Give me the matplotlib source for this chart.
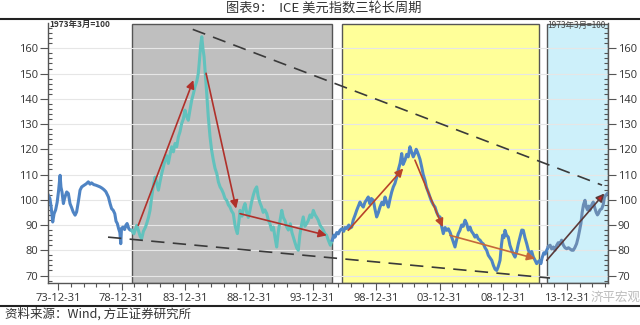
import matplotlib
matplotlib.use("Agg")
import matplotlib.pyplot as plt
from matplotlib.lines import Line2D

CJK = ['Noto Sans CJK SC', 'DejaVu Sans']
plt.rcParams['font.family'] = ['Open Sans', 'Noto Sans CJK SC', 'DejaVu Sans']

# ICE 美元指数 (1973年3月=100)
years = [
    1973.23, 1973.35, 1973.45, 1973.57, 1973.68, 1973.80, 1973.92, 1974.03, 1974.15, 1974.22,
    1974.30, 1974.41, 1974.50, 1974.58, 1974.67, 1974.80, 1974.93, 1975.05, 1975.18, 1975.33,
    1975.45, 1975.58, 1975.72, 1975.85, 1976.05, 1976.20, 1976.37, 1976.50, 1976.62, 1976.80,
    1976.95, 1977.15, 1977.29, 1977.45, 1977.60, 1977.75, 1977.95, 1978.08, 1978.20, 1978.33,
    1978.45, 1978.55, 1978.65, 1978.75, 1978.85, 1978.92, 1978.98, 1979.10, 1979.22, 1979.32,
    1979.42, 1979.55, 1979.65, 1979.78, 1979.95, 1980.05, 1980.18, 1980.30, 1980.45, 1980.57,
    1980.70, 1980.85, 1980.96, 1981.10, 1981.22, 1981.35, 1981.50, 1981.62, 1981.75, 1981.88,
    1982.00, 1982.14, 1982.27, 1982.40, 1982.53, 1982.66, 1982.80, 1982.93, 1983.06, 1983.19,
    1983.32, 1983.45, 1983.58, 1983.71, 1983.84, 1983.97, 1984.10, 1984.23, 1984.36, 1984.50,
    1984.63, 1984.76, 1984.90, 1985.02, 1985.12, 1985.20, 1985.29, 1985.38, 1985.47, 1985.58,
    1985.68, 1985.80, 1985.94, 1986.07, 1986.20, 1986.33, 1986.47, 1986.60, 1986.73, 1986.86,
    1986.99, 1987.12, 1987.25, 1987.38, 1987.51, 1987.64, 1987.77, 1987.90, 1988.00, 1988.09,
    1988.20, 1988.30, 1988.45, 1988.58, 1988.69, 1988.82, 1988.95, 1989.08, 1989.20, 1989.35,
    1989.48, 1989.61, 1989.72, 1989.85, 1990.00, 1990.12, 1990.25, 1990.40, 1990.52, 1990.65,
    1990.78, 1990.92, 1991.05, 1991.18, 1991.30, 1991.45, 1991.58, 1991.70, 1991.85, 1991.97,
    1992.10, 1992.25, 1992.38, 1992.49, 1992.62, 1992.75, 1992.88, 1993.00, 1993.13, 1993.27,
    1993.40, 1993.53, 1993.67, 1993.80, 1993.93, 1994.06, 1994.20, 1994.33, 1994.45, 1994.58,
    1994.72, 1994.85, 1994.98, 1995.10, 1995.24, 1995.40, 1995.55, 1995.68, 1995.77, 1995.90,
    1996.03, 1996.16, 1996.30, 1996.45, 1996.55, 1996.69, 1996.85, 1996.95, 1997.08, 1997.20,
    1997.35, 1997.47, 1997.60, 1997.73, 1997.85, 1997.99, 1998.12, 1998.25, 1998.38, 1998.50,
    1998.62, 1998.78, 1998.90, 1999.04, 1999.18, 1999.30, 1999.45, 1999.58, 1999.70, 1999.83,
    1999.96, 2000.10, 2000.22, 2000.35, 2000.48, 2000.62, 2000.75, 2000.88, 2001.01, 2001.12,
    2001.27, 2001.40, 2001.52, 2001.66, 2001.78, 2001.92, 2002.05, 2002.15, 2002.24, 2002.35,
    2002.45, 2002.58, 2002.70, 2002.84, 2002.95, 2003.10, 2003.23, 2003.35, 2003.50, 2003.63,
    2003.76, 2003.90, 2004.02, 2004.15, 2004.28, 2004.42, 2004.55, 2004.68, 2004.82, 2004.94,
    2005.08, 2005.20, 2005.32, 2005.45, 2005.59, 2005.72, 2005.85, 2005.99, 2006.12, 2006.25,
    2006.38, 2006.50, 2006.64, 2006.77, 2006.90, 2007.03, 2007.17, 2007.30, 2007.43, 2007.56,
    2007.69, 2007.82, 2007.95, 2008.09, 2008.22, 2008.35, 2008.48, 2008.60, 2008.74, 2008.85,
    2008.95, 2009.05, 2009.13, 2009.25, 2009.39, 2009.52, 2009.66, 2009.79, 2009.92, 2010.05,
    2010.18, 2010.30, 2010.45, 2010.57, 2010.70, 2010.84, 2010.97, 2011.10, 2011.23, 2011.36,
    2011.50, 2011.62, 2011.75, 2011.88, 2011.95, 2012.05, 2012.18, 2012.30, 2012.41, 2012.55,
    2012.68, 2012.80, 2012.93, 2013.06, 2013.20, 2013.32, 2013.45, 2013.58, 2013.72, 2013.85,
    2013.98, 2014.12, 2014.25, 2014.38, 2014.50, 2014.62, 2014.76, 2014.88, 2015.00, 2015.10,
    2015.20, 2015.30, 2015.42, 2015.52, 2015.62, 2015.72, 2015.81, 2015.95, 2016.07, 2016.18,
    2016.30, 2016.40, 2016.47, 2016.60, 2016.74, 2016.85, 2016.95, 2017.05, 2017.18,
]
dxy = [
    101.8, 100.5, 97.0, 91.2, 94.5, 96.0, 99.0, 103.5, 109.7, 105.0,
    103.1, 98.5, 100.5, 101.8, 103.1, 102.5, 98.5, 97.0, 95.2, 93.9,
    95.2, 99.1, 103.8, 105.1, 105.8, 106.3, 107.1, 106.2, 106.7, 106.0,
    105.8, 105.4, 105.1, 104.6, 104.0, 103.2, 101.1, 98.5, 96.5, 95.8,
    94.5, 91.5, 90.6, 88.6, 87.0, 82.6, 88.7, 89.2, 88.2, 89.9,
    90.6, 88.6, 88.0, 87.9, 86.5, 88.0, 89.9, 88.0, 85.5, 84.6,
    87.5, 89.0, 90.6, 93.0, 95.8, 101.0, 106.0, 109.0, 106.5, 103.8,
    107.0, 110.4, 113.0, 115.7, 117.5, 114.4, 118.0, 121.0, 119.0, 122.3,
    121.0, 124.9, 127.0, 130.2, 132.0, 135.5, 133.0, 131.5, 135.5, 139.5,
    142.0, 144.8, 147.0, 150.1, 156.0, 161.0, 164.6, 160.0, 156.7, 149.0,
    142.1, 133.0, 124.9, 119.5, 115.7, 112.5, 110.4, 107.0, 105.1, 104.0,
    102.5, 100.5, 99.8, 98.0, 97.1, 95.5, 94.5, 90.0, 88.0, 86.6,
    91.0, 95.8, 93.5, 97.0, 98.5, 95.0, 93.0, 95.8, 99.0, 102.0,
    104.0, 105.1, 101.5, 99.0, 97.1, 95.0, 96.0, 94.5, 92.0, 90.5,
    88.0, 89.2, 85.0, 81.3, 87.0, 92.0, 95.8, 93.0, 91.5, 89.2,
    88.0, 90.5, 87.0, 85.2, 83.0, 81.0, 80.0, 86.0, 90.0, 93.2,
    89.5, 90.5, 91.9, 94.0, 93.0, 95.8, 94.0, 93.0, 91.9, 90.0,
    89.0, 87.9, 86.5, 86.0, 84.0, 82.0, 84.0, 86.0, 85.2, 87.0,
    86.5, 87.9, 88.5, 87.5, 89.0, 88.6, 90.0, 88.8, 89.2, 92.0,
    94.0, 95.8, 97.5, 99.1, 98.0, 97.1, 99.0, 100.0, 101.1, 98.5,
    100.5, 99.8, 96.5, 93.2, 95.0, 97.1, 99.0, 98.0, 101.1, 99.0,
    97.1, 100.5, 103.0, 105.1, 106.5, 109.0, 112.0, 114.4, 118.3, 114.0,
    115.7, 118.0, 117.0, 121.0, 119.0, 117.0, 118.5, 120.0, 119.0, 117.5,
    116.0, 113.0, 110.0, 107.7, 105.0, 103.0, 101.1, 99.5, 98.0, 97.1,
    95.0, 93.5, 93.2, 89.5, 86.6, 89.0, 87.9, 88.5, 87.0, 85.2,
    83.0, 81.3, 84.0, 86.5, 87.9, 90.0, 89.5, 91.9, 90.5, 88.0,
    89.2, 87.5, 86.5, 85.2, 86.0, 84.5, 84.0, 83.0, 82.5, 81.0,
    80.0, 78.0, 77.0, 76.0, 74.0, 72.5, 72.0, 73.5, 76.0, 82.0,
    86.0, 85.0, 87.9, 86.0, 85.2, 82.0, 80.0, 78.5, 77.3, 79.5,
    82.6, 85.0, 88.0, 87.9, 85.0, 82.6, 80.0, 78.7, 79.5, 77.3,
    76.0, 74.7, 75.5, 76.0, 74.7, 77.0, 79.0, 78.5, 80.0, 81.5,
    82.0, 80.5, 81.3, 80.0, 82.0, 83.0, 82.6, 84.0, 82.0, 81.0,
    80.6, 81.0, 80.5, 80.0, 80.0, 81.0, 82.6, 85.0, 88.0, 90.6,
    95.0, 98.0, 99.8, 97.1, 96.0, 97.5, 95.8, 98.0, 99.1, 97.0,
    95.0, 94.0, 94.5, 96.0, 96.5, 98.0, 101.0, 101.8, 102.5,
]

# three long cycles (shaded periods)
cycle_start = [1979.78, 1996.32, 2012.43]
cycle_end = [1995.53, 2011.77, 2017.23]

# trend arrows (start point, end point)
arrow_from = [(1980.3, 89.9), (1985.63, 150.1), (1988.3, 94.5),
              (1996.81, 87.9), (2002.05, 115.7), (2004.81, 85.9), (2012.41, 76.0)]
arrow_to = [(1984.63, 147.4), (1987.99, 96.5), (1995.12, 85.9),
            (2001.13, 112.4), (2004.23, 89.2), (2011.5, 76.7), (2016.94, 102.5)]

# dashed envelope lines
upper_x = [1984.58, 2016.76]
upper_y = [167.5, 105.8]
lower_x = [1977.92, 2012.67]
lower_y = [85.2, 69.0]

tick_years = [1973, 1978, 1983, 1988, 1993, 1998, 2003, 2008, 2013]
tick_labels = ["73-12-31", "78-12-31", "83-12-31", "88-12-31", "93-12-31",
               "98-12-31", "03-12-31", "08-12-31", "13-12-31"]

fig = plt.figure(figsize=(6.4, 3.25), dpi=100)
ax = fig.add_axes([0.075, 0.129, 0.875, 0.8])

span_colors = ['#bfbfbf', '#ffff99', '#cdf0fa']
for x0, x1, c in zip(cycle_start, cycle_end, span_colors):
    ax.axvspan(x0, x1, ymin=0, ymax=0.995, facecolor=c, edgecolor='#555555', lw=1, zorder=1)

for v in range(70, 170, 10):
    ax.axhline(v, color='#e6e6e6', lw=0.8, zorder=1.5)

# line colour changes with the shaded period
def seg_color(x):
    if cycle_start[0] <= x <= cycle_end[0]:
        return '#62c2bd'
    if x >= cycle_start[2]:
        return '#6a8db5'
    return '#4f84c4'

i = 0
n = len(years)
while i < n - 1:
    c = seg_color(years[i] + 0.001)
    j = i + 1
    while j < n - 1 and seg_color(years[j] + 0.001) == c:
        j += 1
    ax.plot(years[i:j + 1], dxy[i:j + 1], color=c, lw=2.2, zorder=2, solid_joinstyle='round')
    i = j

ax.plot(upper_x, upper_y, color='#3a3a3a', lw=1.2, ls=(0, (8, 5)), zorder=3)
ax.plot(lower_x, lower_y, color='#3a3a3a', lw=1.2, ls=(0, (8, 5)), zorder=3)

arrow_cols = ['#b0302a', '#b0302a', '#b0302a', '#b8442a', '#b8442a', '#c5683a', '#5a3a3a']
head_cols = ['#b0302a', '#b0302a', '#b0302a', '#b8442a', '#b8442a', '#c5683a', '#d02020']
for p0, p1, c, fc in zip(arrow_from, arrow_to, arrow_cols, head_cols):
    ax.annotate('', xy=p1, xytext=p0,
                arrowprops=dict(arrowstyle='-|>', ec=c, fc=fc, lw=1.2,
                                mutation_scale=12, shrinkA=0, shrinkB=0),
                zorder=4)

ax.set_xlim(1973.2, 2017.23)
ax.set_ylim(67, 170)

ax.set_xticks([y + 0.999 for y in tick_years])
ax.set_xticklabels(tick_labels)
ax.set_xticks([y + 0.999 for y in range(1974, 2017)], minor=True)
ax.set_yticks(range(70, 170, 10))
ax.set_yticks([v for v in range(68, 170, 2) if v % 10], minor=True)

ax.tick_params(axis='x', which='major', direction='out', length=5, width=0.8,
               colors='#555555', labelcolor='#333333', labelsize=8, pad=2)
ax.tick_params(axis='x', which='minor', direction='out', length=3, width=0.8, colors='#555555')
ax.tick_params(axis='y', which='major', direction='out', length=6, width=0.8,
               left=True, right=True, labelleft=True, labelright=True,
               colors='#555555', labelcolor='#333333', labelsize=8, pad=1)
ax.tick_params(axis='y', which='minor', direction='in', length=3, width=0.8,
               left=True, right=True, colors='#555555')

ax.spines['top'].set_visible(False)
for s in ['left', 'right', 'bottom']:
    ax.spines[s].set_color('#555555')
    ax.spines[s].set_linewidth(1)

ax.text(0.003, 0.996, '1973年3月=100', transform=ax.transAxes, ha='left', va='center',
        fontsize=6, fontweight='bold', family=CJK, color='#333333', zorder=5)
ax.text(0.995, 0.99, '1973年3月=100', transform=ax.transAxes, ha='right', va='center',
        fontsize=6, family=CJK, color='#444444', zorder=5)

fig.text(0.506, 0.975, '图表9：  ICE 美元指数三轮长周期', ha='center', va='center',
         fontsize=9.5, family=CJK, color='#333333')
fig.add_artist(Line2D([0, 1], [0.941, 0.941], color='#222222', lw=1.5))
fig.add_artist(Line2D([0, 1], [0.06, 0.06], color='#222222', lw=1.5))
fig.text(0.008, 0.033, '资料来源：Wind, 方正证券研究所', ha='left', va='center',
         fontsize=9, family=CJK, color='#333333')
# watermark, nudged right so it does not sit on the last tick label
fig.text(0.962, 0.086, '济平宏观', ha='center', va='center', fontsize=9,
         family=CJK, color='#b5b5b5', alpha=0.9)

fig.savefig('out.png', dpi=100)
